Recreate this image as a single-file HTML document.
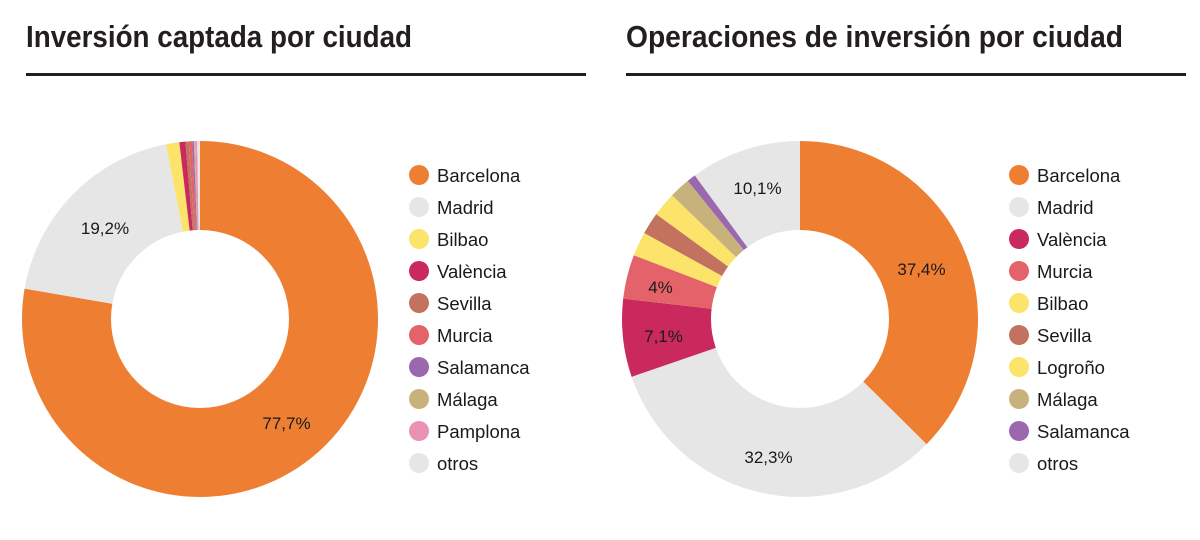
<!DOCTYPE html>
<html>
<head>
<meta charset="utf-8">
<style>
  html,body{margin:0;padding:0;background:#fff;}
  svg{display:block;}
  .t{font-family:"Liberation Sans",sans-serif;font-weight:bold;font-size:31px;fill:#231f20;}
  .lg{font-family:"Liberation Sans",sans-serif;font-size:18.5px;fill:#1a1a1a;}
  .pc{font-family:"Liberation Sans",sans-serif;font-size:17px;fill:#1a1a1a;text-anchor:middle;}
</style>
</head>
<body>
<svg width="1200" height="540" viewBox="0 0 1200 540" xmlns="http://www.w3.org/2000/svg">
  <rect width="1200" height="540" fill="#fff"/>

  <!-- Titles -->
  <text class="t" x="26" y="47" textLength="386" lengthAdjust="spacingAndGlyphs">Inversión captada por ciudad</text>
  <rect x="26" y="73" width="560" height="3" fill="#231f20"/>
  <text class="t" x="626" y="47" textLength="497" lengthAdjust="spacingAndGlyphs">Operaciones de inversión por ciudad</text>
  <rect x="626" y="73" width="560" height="3" fill="#231f20"/>

  <!-- Left donut -->
  <g transform="rotate(-90 200 319)" fill="none" stroke-width="89">
    <circle cx="200" cy="319" r="133.5" stroke="#EE7F32" stroke-dasharray="651.76 838.81" stroke-dashoffset="0"/>
    <circle cx="200" cy="319" r="133.5" stroke="#E6E6E6" stroke-dasharray="161.05 838.81" stroke-dashoffset="-651.76"/>
    <circle cx="200" cy="319" r="133.5" stroke="#FCE36A" stroke-dasharray="10.07 838.81" stroke-dashoffset="-812.81"/>
    <circle cx="200" cy="319" r="133.5" stroke="#C9295C" stroke-dasharray="4.61 838.81" stroke-dashoffset="-822.88"/>
    <circle cx="200" cy="319" r="133.5" stroke="#C47260" stroke-dasharray="2.52 838.81" stroke-dashoffset="-827.49"/>
    <circle cx="200" cy="319" r="133.5" stroke="#E4636A" stroke-dasharray="2.52 838.81" stroke-dashoffset="-830.01"/>
    <circle cx="200" cy="319" r="133.5" stroke="#9B68B0" stroke-dasharray="1.26 838.81" stroke-dashoffset="-832.53"/>
    <circle cx="200" cy="319" r="133.5" stroke="#C8B27C" stroke-dasharray="0.84 838.81" stroke-dashoffset="-833.79"/>
    <circle cx="200" cy="319" r="133.5" stroke="#E992B3" stroke-dasharray="1.68 838.81" stroke-dashoffset="-834.63"/>
    <circle cx="200" cy="319" r="133.5" stroke="#E6E6E6" stroke-dasharray="2.52 838.81" stroke-dashoffset="-836.31"/>
  </g>
  <text class="pc" x="105" y="234">19,2%</text>
  <text class="pc" x="286.5" y="429">77,7%</text>

  <!-- Left legend -->
  <g>
    <circle cx="419" cy="175" r="10" fill="#EE7F32"/><text class="lg" x="437" y="182">Barcelona</text>
    <circle cx="419" cy="207" r="10" fill="#E6E6E6"/><text class="lg" x="437" y="214">Madrid</text>
    <circle cx="419" cy="239" r="10" fill="#FCE36A"/><text class="lg" x="437" y="246">Bilbao</text>
    <circle cx="419" cy="271" r="10" fill="#C9295C"/><text class="lg" x="437" y="278">València</text>
    <circle cx="419" cy="303" r="10" fill="#C47260"/><text class="lg" x="437" y="310">Sevilla</text>
    <circle cx="419" cy="335" r="10" fill="#E4636A"/><text class="lg" x="437" y="342">Murcia</text>
    <circle cx="419" cy="367" r="10" fill="#9B68B0"/><text class="lg" x="437" y="374">Salamanca</text>
    <circle cx="419" cy="399" r="10" fill="#C8B27C"/><text class="lg" x="437" y="406">Málaga</text>
    <circle cx="419" cy="431" r="10" fill="#E992B3"/><text class="lg" x="437" y="438">Pamplona</text>
    <circle cx="419" cy="463" r="10" fill="#E6E6E6"/><text class="lg" x="437" y="470">otros</text>
  </g>

  <!-- Right donut -->
  <g transform="rotate(-90 800 319)" fill="none" stroke-width="89">
    <circle cx="800" cy="319" r="133.5" stroke="#EE7F32" stroke-dasharray="313.71 838.81" stroke-dashoffset="0"/>
    <circle cx="800" cy="319" r="133.5" stroke="#E6E6E6" stroke-dasharray="270.94 838.81" stroke-dashoffset="-313.71"/>
    <circle cx="800" cy="319" r="133.5" stroke="#C9295C" stroke-dasharray="59.56 838.81" stroke-dashoffset="-584.65"/>
    <circle cx="800" cy="319" r="133.5" stroke="#E4636A" stroke-dasharray="33.55 838.81" stroke-dashoffset="-644.21"/>
    <circle cx="800" cy="319" r="133.5" stroke="#FCE36A" stroke-dasharray="18.45 838.81" stroke-dashoffset="-677.76"/>
    <circle cx="800" cy="319" r="133.5" stroke="#C47260" stroke-dasharray="16.78 838.81" stroke-dashoffset="-696.21"/>
    <circle cx="800" cy="319" r="133.5" stroke="#FCE36A" stroke-dasharray="18.45 838.81" stroke-dashoffset="-712.99"/>
    <circle cx="800" cy="319" r="133.5" stroke="#C8B27C" stroke-dasharray="15.94 838.81" stroke-dashoffset="-731.44"/>
    <circle cx="800" cy="319" r="133.5" stroke="#9B68B0" stroke-dasharray="6.71 838.81" stroke-dashoffset="-747.38"/>
    <circle cx="800" cy="319" r="133.5" stroke="#E6E6E6" stroke-dasharray="84.72 838.81" stroke-dashoffset="-754.09"/>
  </g>
  <text class="pc" x="921.5" y="275">37,4%</text>
  <text class="pc" x="768.5" y="463">32,3%</text>
  <text class="pc" x="663.5" y="342">7,1%</text>
  <text class="pc" x="660.5" y="293">4%</text>
  <text class="pc" x="757.5" y="194">10,1%</text>

  <!-- Right legend -->
  <g>
    <circle cx="1019" cy="175" r="10" fill="#EE7F32"/><text class="lg" x="1037" y="182">Barcelona</text>
    <circle cx="1019" cy="207" r="10" fill="#E6E6E6"/><text class="lg" x="1037" y="214">Madrid</text>
    <circle cx="1019" cy="239" r="10" fill="#C9295C"/><text class="lg" x="1037" y="246">València</text>
    <circle cx="1019" cy="271" r="10" fill="#E4636A"/><text class="lg" x="1037" y="278">Murcia</text>
    <circle cx="1019" cy="303" r="10" fill="#FCE36A"/><text class="lg" x="1037" y="310">Bilbao</text>
    <circle cx="1019" cy="335" r="10" fill="#C47260"/><text class="lg" x="1037" y="342">Sevilla</text>
    <circle cx="1019" cy="367" r="10" fill="#FCE36A"/><text class="lg" x="1037" y="374">Logroño</text>
    <circle cx="1019" cy="399" r="10" fill="#C8B27C"/><text class="lg" x="1037" y="406">Málaga</text>
    <circle cx="1019" cy="431" r="10" fill="#9B68B0"/><text class="lg" x="1037" y="438">Salamanca</text>
    <circle cx="1019" cy="463" r="10" fill="#E6E6E6"/><text class="lg" x="1037" y="470">otros</text>
  </g>
</svg>
</body>
</html>
